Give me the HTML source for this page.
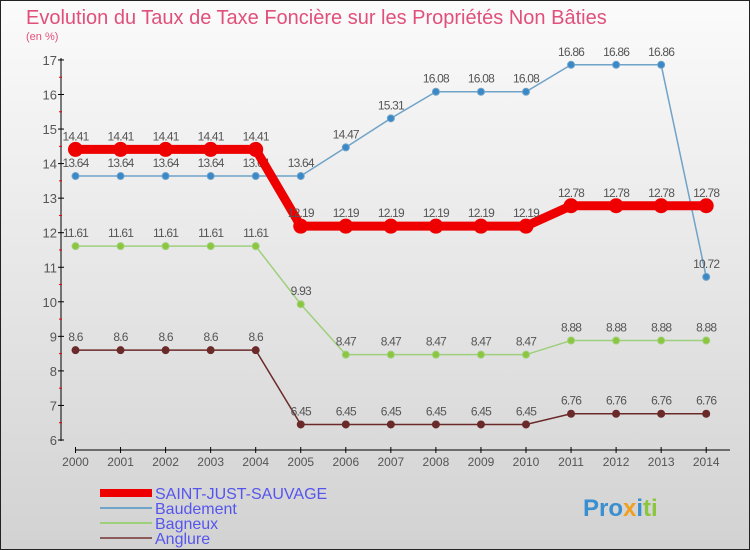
<!DOCTYPE html>
<html><head><meta charset="utf-8"><style>
body{margin:0;width:750px;height:550px;overflow:hidden}
svg{display:block;font-family:"Liberation Sans","DejaVu Sans",sans-serif}
</style></head><body>
<svg width="750" height="550">
<defs><linearGradient id="bg" x1="0" y1="0" x2="0" y2="1"><stop offset="0" stop-color="#fbfbfb"/><stop offset="1" stop-color="#d2d2d2"/></linearGradient></defs>
<rect x="0.5" y="0.5" width="749" height="549" fill="url(#bg)" stroke="#222"/>
<text x="26" y="24" font-size="20" fill="#e0507a">Evolution du Taux de Taxe Foncière sur les Propriétés Non Bâties</text>
<text x="26" y="40" font-size="11" fill="#e0507a">(en %)</text>
<g id="axes"></g>
<g id="series"></g>
<g>
<rect x="100" y="489" width="52" height="8" fill="#e00"/>
<line x1="100" y1="508" x2="152" y2="508" stroke="#6fa3c8" stroke-width="2"/>
<line x1="100" y1="523" x2="152" y2="523" stroke="#9ed07c" stroke-width="2"/>
<line x1="100" y1="538" x2="152" y2="538" stroke="#8b5a5a" stroke-width="2"/>
<g font-size="16" fill="#5555ee">
<text x="155" y="499">SAINT-JUST-SAUVAGE</text>
<text x="155" y="514">Baudement</text>
<text x="155" y="529">Bagneux</text>
<text x="155" y="544">Anglure</text>
</g></g>
<g font-size="24" font-weight="bold">
<text x="583" y="516" fill="#3a8fd0">Pro<tspan fill="#f0a020">x</tspan><tspan fill="#3a8fd0">i</tspan><tspan fill="#8cc63f">ti</tspan></text>
</g>
</svg>
<script>
const years=[2000,2001,2002,2003,2004,2005,2006,2007,2008,2009,2010,2011,2012,2013,2014];
const yTicks=[6,7,8,9,10,11,12,13,14,15,16,17];
const saint=[14.41,14.41,14.41,14.41,14.41,12.19,12.19,12.19,12.19,12.19,12.19,12.78,12.78,12.78,12.78];
const baud=[13.64,13.64,13.64,13.64,13.64,13.64,14.47,15.31,16.08,16.08,16.08,16.86,16.86,16.86,10.72];
const bagn=[11.61,11.61,11.61,11.61,11.61,9.93,8.47,8.47,8.47,8.47,8.47,8.88,8.88,8.88,8.88];
const angl=[8.6,8.6,8.6,8.6,8.6,6.45,6.45,6.45,6.45,6.45,6.45,6.76,6.76,6.76,6.76];
const NS='http://www.w3.org/2000/svg';
const X=i=>75.5+i*45.05, Y=v=>440-(v-6)*34.55;
function mk(t,a,p){const e=document.createElementNS(NS,t);for(const k in a)e.setAttribute(k,a[k]);p.appendChild(e);return e;}
const ax=document.getElementById('axes');
const yl=mk('line',{x1:61,y1:58,x2:61,y2:441,stroke:'#000'},ax);


yTicks.forEach(v=>{
 mk('line',{x1:58,y1:Y(v),x2:64,y2:Y(v),stroke:'#000'},ax);
 if(v<17) mk('line',{x1:59,y1:Y(v+0.5),x2:62,y2:Y(v+0.5),stroke:'#e00'},ax);
 const t=mk('text',{x:57,y:Y(v)+5,'text-anchor':'end','font-size':13,fill:'#555'},ax);t.textContent=v;
 
 
});
const xl=mk('line',{x1:75,y1:450,x2:730,y2:450,stroke:'#000'},ax);


years.forEach((y,i)=>{
 mk('line',{x1:X(i),y1:447,x2:X(i),y2:453,stroke:'#000'},ax);
 const t=mk('text',{x:X(i),y:466,'text-anchor':'middle','font-size':12,fill:'#555'},ax);t.textContent=y;
 
 
});
const sg=document.getElementById('series');
function series(d,name,col,w,r,dot){
 const g=mk('g',{},sg);
 
 
 mk('polyline',{points:d.map((v,i)=>X(i)+','+Y(v)).join(' '),fill:'none',stroke:col,'stroke-width':w},g);
 d.forEach((v,i)=>{
  const c=mk('circle',{cx:X(i),cy:Y(v),r:r,fill:dot,stroke:col,'stroke-width':1},g);
  
  
  const t=mk('text',{x:X(i),y:Y(v)-9,'text-anchor':'middle','font-size':12,fill:'#555','letter-spacing':'-0.8'},g);t.textContent=v;
  
  
 });
}
series(angl,'anglure','#6b2a2a',1.5,3.5,'#6b2a2a');
series(bagn,'bagneux','#9ed07c',1.5,3.5,'#8cc63f');
series(baud,'baudement','#6fa3c8',1.5,3.5,'#3a88c8');
series(saint,'saint-just','#e00',9,7,'#e00');
</script>
</body></html>
